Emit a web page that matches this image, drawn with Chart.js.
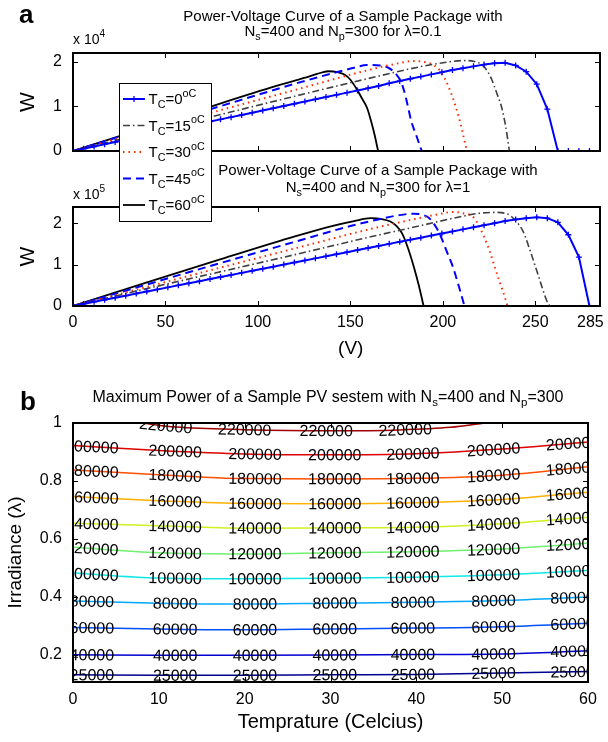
<!DOCTYPE html>
<html lang="en">
<head>
<meta charset="UTF-8">
<title>PV curves and maximum power map</title>
<script src="https://cdn.jsdelivr.net/npm/chart.js"></script>
<style>
  body { margin: 0; background: #fff; }
  #wrap { position: relative; width: 608px; height: 742px; }
  canvas { position: absolute; left: 0; }
  #pvTop { top: 0; z-index: 2; }
  #pvBottom { top: 160px; z-index: 1; }
  #contour { top: 360px; z-index: 1; }
</style>
</head>
<body>
<div id="wrap">
  <canvas id="pvTop" width="608" height="232"></canvas>
  <canvas id="pvBottom" width="608" height="200"></canvas>
  <canvas id="contour" width="608" height="382"></canvas>
</div>

<script>
// ---------- data: panel a (power vs voltage) ----------
const tempsC = [0, 15, 30, 45, 60];
const vTicks = [0, 50, 100, 150, 200, 250, 285];

// voltage samples of the Tc=0 curve (the one with markers)
const vGrid = [0,5.7,11.4,17.1,22.8,28.5,34.2,39.9,45.6,51.3,57,62.7,68.4,74.1,79.8,85.5,91.2,96.9,102.6,108.3,
  114,119.7,125.4,131.1,136.8,142.5,148.2,153.9,159.6,165.3,171,176.7,182.4,188.1,193.8,199.5,205.2,210.9,216.6,222.3,
  228,233.7,239.4,245.1,250.8,256.5,262.2,267.9,273.6,279.3,285];

// lambda = 0.1, power in units of 1e4 W
const top0P = [0,0.05,0.10,0.15,0.20,0.25,0.30,0.35,0.40,0.45,0.51,0.56,0.61,0.66,0.71,0.76,0.81,0.86,0.91,0.96,
  1.01,1.06,1.11,1.16,1.21,1.26,1.31,1.36,1.41,1.46,1.52,1.57,1.62,1.67,1.72,1.77,1.82,1.86,1.90,1.94,
  1.97,1.98,1.92,1.78,1.50,0.94,0,0,0,0,0];
const top15V = [0,40,80,120,160,190,205,211,217,221,224,226.5,229,232,234,236];
const top15P = [0,0.41,0.82,1.23,1.63,1.91,2.01,2.03,2.01,1.94,1.80,1.60,1.32,0.95,0.55,0];
const top30V = [0,40,80,120,160,175,184,190,195,198,201,203,206,208.6,211,213];
const top30P = [0,0.46,0.92,1.37,1.82,1.96,2.02,2.00,1.93,1.83,1.63,1.45,1.12,0.77,0.36,0];
const top45V = [0,40,80,120,140,152,159,166,170,174,177,179,181,183,185.4,188.6];
const top45P = [0,0.51,1.01,1.51,1.74,1.87,1.93,1.92,1.88,1.76,1.58,1.36,1.02,0.66,0.38,0];
const top60V = [0,40,80,110,125,132,138,143,147,150,153,156,159,161,163,165];
const top60P = [0,0.53,1.07,1.46,1.64,1.73,1.79,1.77,1.71,1.60,1.42,1.20,0.97,0.70,0.38,0];

// lambda = 1, power in units of 1e5 W
const bot0P = [0,0.05,0.10,0.15,0.20,0.25,0.30,0.35,0.40,0.45,0.50,0.55,0.60,0.65,0.70,0.75,0.80,0.85,0.90,0.95,
  1.00,1.05,1.10,1.15,1.20,1.25,1.30,1.35,1.40,1.45,1.50,1.55,1.60,1.65,1.70,1.75,1.80,1.85,1.90,1.95,
  2.00,2.05,2.09,2.12,2.14,2.12,2.02,1.72,1.18,0];
const bot15V = [0,40,80,120,160,190,210,220,228,235,239,243.4,247.7,251.9,256.1,257.8];
const bot15P = [0,0.42,0.83,1.24,1.66,1.96,2.16,2.24,2.26,2.22,2.08,1.80,1.27,0.70,0.14,0];
const bot30V = [0,40,80,120,160,185,198,205.4,211,217,222.3,225.5,228.6,232,235];
const bot30P = [0,0.46,0.93,1.39,1.85,2.10,2.22,2.27,2.24,2.12,1.67,1.30,0.87,0.42,0];
const bot45V = [0,40,80,120,150,165,176,184.3,189,192.7,196,199,202,205.4,208.5,211.7];
const bot45P = [0,0.52,1.04,1.55,1.93,2.09,2.19,2.23,2.20,2.12,1.93,1.67,1.33,0.95,0.50,0];
const bot60V = [0,40,80,120,140,152,161,167,171.6,175,177.9,181,184.3,187,189.6];
const bot60P = [0,0.57,1.13,1.68,1.93,2.05,2.12,2.10,2.04,1.93,1.76,1.42,0.95,0.50,0];

// ---------- data: panel b (contours of max power) ----------
const levels = [25000, 40000, 60000, 80000, 100000, 120000, 140000, 160000, 180000, 200000, 220000];
const tGrid = [0, 10, 20, 30, 40, 50, 60];
const lam25000  = [0.131, 0.129, 0.129, 0.131, 0.132, 0.137, 0.142];
const lam40000  = [0.200, 0.198, 0.198, 0.199, 0.201, 0.203, 0.214];
const lam60000  = [0.294, 0.289, 0.286, 0.289, 0.292, 0.297, 0.309];
const lam80000  = [0.386, 0.378, 0.375, 0.378, 0.381, 0.387, 0.399];
const lam100000 = [0.482, 0.465, 0.462, 0.464, 0.468, 0.476, 0.491];
const lam120000 = [0.571, 0.552, 0.548, 0.552, 0.556, 0.565, 0.585];
const lam140000 = [0.654, 0.645, 0.637, 0.638, 0.640, 0.652, 0.675];
const lam160000 = [0.746, 0.732, 0.722, 0.721, 0.725, 0.736, 0.761];
const lam180000 = [0.838, 0.821, 0.808, 0.807, 0.809, 0.820, 0.849];
const lam200000 = [0.922, 0.905, 0.893, 0.890, 0.894, 0.910, 0.934];
const t220000   = [8, 12, 20, 30, 38, 44, 48];
const lam220000 = [1.0, 0.986, 0.977, 0.973, 0.976, 0.985, 1.0];
const lamTicks = [0.2, 0.4, 0.6, 0.8, 1];
const labelT = [2.2, 11.9, 21.2, 30.5, 39.6, 49.0, 58.2];
const labelT220 = [10.8, 20.0, 29.5, 38.7];

// ---------- styles ----------
const FAM = '"Liberation Sans", Arial, Helvetica, sans-serif';
Chart.defaults.font.family = FAM;
Chart.defaults.color = '#000';

const pvStyles = [
  { color: '#0000ff', dash: [], width: 2, marker: true },
  { color: '#404040', dash: [7, 3, 1.5, 3], width: 1.6 },
  { color: '#ff2a00', dash: [1.5, 4], width: 2 },
  { color: '#0000ff', dash: [8, 5], width: 2 },
  { color: '#000000', dash: [], width: 1.8 }
];
const levelColors = ['#000090', '#0000d0', '#0050ff', '#00a8ff', '#10e8e8', '#70f070',
  '#d0f020', '#ffb000', '#ff5000', '#e00000', '#a00000'];

// text with sub/superscripts: parts = [[text, ''|'sub'|'sup'], ...]
function drawRich(ctx, parts, x, y, size, align) {
  const small = size * 0.72;
  let w = 0;
  parts.forEach(p => {
    ctx.font = (p[1] ? small : size) + 'px ' + FAM;
    w += ctx.measureText(p[0]).width;
  });
  let cx = align === 'left' ? x : x - w / 2;
  ctx.textAlign = 'left';
  ctx.textBaseline = 'alphabetic';
  ctx.fillStyle = '#000';
  parts.forEach(p => {
    ctx.font = (p[1] ? small : size) + 'px ' + FAM;
    const dy = p[1] === 'sub' ? size * 0.27 : p[1] === 'sup' ? -size * 0.5 : 0;
    ctx.fillText(p[0], cx, y + dy);
    cx += ctx.measureText(p[0]).width;
  });
}

function pvDatasets(series) {
  return series.map((s, k) => ({
    label: 'Tc=' + tempsC[k],
    data: s.v.map((v, i) => ({ x: v, y: s.p[i] })),
    borderColor: pvStyles[k].color,
    borderDash: pvStyles[k].dash,
    borderWidth: pvStyles[k].width,
    pointRadius: pvStyles[k].marker ? 3 : 0,
    pointStyle: 'cross',
    pointBorderWidth: 1.3,
    pointBorderColor: pvStyles[k].color,
    cubicInterpolationMode: pvStyles[k].marker ? 'default' : 'monotone'
  }));
}

const setTicks = list => scale => { scale.ticks = list.map(v => ({ value: v })); };

// box + inward ticks on all four sides
const framePlugin = {
  id: 'frame',
  afterDatasetsDraw(chart) {
    const { ctx, chartArea: a, scales } = chart;
    const L = 5;
    ctx.save();
    ctx.strokeStyle = '#000';
    ctx.lineWidth = 1;
    ctx.beginPath();
    scales.x.ticks.forEach(t => {
      const px = Math.round(scales.x.getPixelForValue(t.value)) + 0.5;
      ctx.moveTo(px, a.bottom); ctx.lineTo(px, a.bottom - L);
      ctx.moveTo(px, a.top); ctx.lineTo(px, a.top + L);
    });
    scales.y.ticks.forEach(t => {
      const py = Math.round(scales.y.getPixelForValue(t.value)) + 0.5;
      ctx.moveTo(a.left, py); ctx.lineTo(a.left + L, py);
      ctx.moveTo(a.right, py); ctx.lineTo(a.right - L, py);
    });
    ctx.stroke();
    ctx.lineWidth = 2;
    ctx.strokeRect(a.left, a.top, a.right - a.left, a.bottom - a.top);
    ctx.restore();
  }
};

function yAxisPV(max) {
  return {
    type: 'linear', min: 0, max: max,
    afterBuildTicks: setTicks([0, 1, 2]),
    ticks: { padding: 11, font: { size: 16 }, callback: v => String(v) },
    grid: { display: false, drawTicks: false },
    border: { display: false },
    title: { display: true, text: 'W', font: { size: 21 }, padding: { top: 16, bottom: 0 } },
    afterFit: s => { s.width = 73; s.paddingTop = 0; s.paddingBottom = 0; }
  };
}

// ---------- panel a, top (lambda = 0.1) ----------
function drawLegend(chart) {
  const ctx = chart.ctx;
  ctx.save();
  ctx.fillStyle = '#fff';
  ctx.fillRect(119.5, 83.5, 92, 138);
  ctx.strokeStyle = '#000';
  ctx.lineWidth = 1;
  ctx.strokeRect(119.5, 83.5, 92, 138);
  chart.data.datasets.forEach((ds, k) => {
    const y = 99 + k * 26.5;
    ctx.strokeStyle = ds.borderColor;
    ctx.lineWidth = ds.borderWidth;
    ctx.setLineDash(ds.borderDash);
    ctx.beginPath(); ctx.moveTo(123, y); ctx.lineTo(145, y); ctx.stroke();
    ctx.setLineDash([]);
    if (ds.pointRadius) {
      ctx.lineWidth = ds.pointBorderWidth;
      ctx.beginPath();
      ctx.moveTo(134, y - 3); ctx.lineTo(134, y + 3);
      ctx.moveTo(131, y); ctx.lineTo(137, y);
      ctx.stroke();
    }
    drawRich(ctx, [['T', ''], ['C', 'sub'], ['=' + tempsC[k], ''], ['oC', 'sup']], 148.5, y + 5, 15, 'left');
  });
  ctx.restore();
}

new Chart(document.getElementById('pvTop'), {
  type: 'line',
  data: {
    datasets: pvDatasets([
      { v: vGrid, p: top0P }, { v: top15V, p: top15P }, { v: top30V, p: top30P },
      { v: top45V, p: top45P }, { v: top60V, p: top60P }
    ])
  },
  options: {
    responsive: false,
    animation: false,
    layout: { padding: { top: 53, right: 8, bottom: 81, left: 0 } },
    plugins: { legend: { display: false }, tooltip: { enabled: false } },
    scales: {
      x: {
        type: 'linear', min: 0, max: 285,
        afterBuildTicks: setTicks(vTicks),
        ticks: { display: false },
        grid: { display: false, drawTicks: false },
        border: { display: false },
        afterFit: s => { s.height = 0; s.paddingLeft = 0; s.paddingRight = 0; }
      },
      y: yAxisPV(2.2)
    }
  },
  plugins: [framePlugin, {
    id: 'texts',
    afterDraw(chart) {
      const ctx = chart.ctx;
      ctx.save();
      ctx.fillStyle = '#000';
      ctx.font = 'bold 26px ' + FAM;
      ctx.textAlign = 'left';
      ctx.fillText('a', 19, 23);
      drawRich(ctx, [['Power-Voltage Curve of a Sample Package with', '']], 343, 21, 15);
      drawRich(ctx, [['N', ''], ['s', 'sub'], ['=400 and N', ''], ['p', 'sub'], ['=300 for \u03bb=0.1', '']], 343, 36, 15);
      drawRich(ctx, [['x 10', ''], ['4', 'sup']], 73, 44, 14, 'left');
      drawLegend(chart);
      ctx.restore();
    }
  }]
});

// ---------- panel a, bottom (lambda = 1) ----------
new Chart(document.getElementById('pvBottom'), {
  type: 'line',
  data: {
    datasets: pvDatasets([
      { v: vGrid.slice(0, bot0P.length), p: bot0P }, { v: bot15V, p: bot15P }, { v: bot30V, p: bot30P },
      { v: bot45V, p: bot45P }, { v: bot60V, p: bot60P }
    ])
  },
  options: {
    responsive: false,
    animation: false,
    layout: { padding: { top: 47, right: 8, bottom: 0, left: 0 } },
    plugins: { legend: { display: false }, tooltip: { enabled: false } },
    scales: {
      x: {
        type: 'linear', min: 0, max: 285,
        afterBuildTicks: setTicks(vTicks),
        // last label sits a little inside the figure edge, as in the original
        ticks: { padding: 7, font: { size: 16 }, maxRotation: 0,
          callback: v => v === 285 ? '285\u2003\u2009' : String(v) },
        grid: { display: false, drawTicks: false },
        border: { display: false },
        title: { display: true, text: '\u2003\u2002(V)', font: { size: 19 }, padding: { top: 0, bottom: 0 } },
        afterFit: s => { s.height = 54; s.paddingLeft = 0; s.paddingRight = 0; }
      },
      y: yAxisPV(2.39)
    }
  },
  plugins: [framePlugin, {
    id: 'texts',
    afterDraw(chart) {
      const ctx = chart.ctx;
      ctx.save();
      drawRich(ctx, [['Power-Voltage Curve of a Sample Package with', '']], 378, 15, 15);
      drawRich(ctx, [['N', ''], ['s', 'sub'], ['=400 and N', ''], ['p', 'sub'], ['=300 for \u03bb=1', '']], 378, 32, 15);
      drawRich(ctx, [['x 10', ''], ['5', 'sup']], 73, 39, 14, 'left');
      ctx.restore();
    }
  }]
});

// ---------- panel b: contour map ----------
const contourSets = [
  { t: tGrid, l: lam25000 }, { t: tGrid, l: lam40000 }, { t: tGrid, l: lam60000 },
  { t: tGrid, l: lam80000 }, { t: tGrid, l: lam100000 }, { t: tGrid, l: lam120000 },
  { t: tGrid, l: lam140000 }, { t: tGrid, l: lam160000 }, { t: tGrid, l: lam180000 },
  { t: tGrid, l: lam200000 }, { t: t220000, l: lam220000 }
];

function lamAt(data, t) {
  if (t <= data[0].x) return data[0].y;
  for (let i = 0; i < data.length - 1; i++) {
    const a = data[i], b = data[i + 1];
    if (t >= a.x && t <= b.x) return a.y + (b.y - a.y) * (t - a.x) / (b.x - a.x);
  }
  return data[data.length - 1].y;
}

const contourLabels = {
  id: 'clabels',
  afterDatasetsDraw(chart) {
    const { ctx, chartArea: a, scales: { x, y } } = chart;
    ctx.save();
    ctx.beginPath();
    ctx.rect(a.left + 1, a.top + 1, a.right - a.left - 2, a.bottom - a.top - 2);
    ctx.clip();
    ctx.font = '16px ' + FAM;
    ctx.fillStyle = '#000';
    ctx.textAlign = 'center';
    ctx.textBaseline = 'middle';
    chart.data.datasets.forEach((ds, k) => {
      const ts = levels[k] === 220000 ? labelT220 : labelT;
      ts.forEach(t => {
        const px = x.getPixelForValue(t);
        const py = y.getPixelForValue(lamAt(ds.data, t));
        const ang = Math.atan2(
          y.getPixelForValue(lamAt(ds.data, t + 3)) - y.getPixelForValue(lamAt(ds.data, t - 3)),
          x.getPixelForValue(t + 3) - x.getPixelForValue(t - 3));
        ctx.save();
        ctx.translate(px, py);
        ctx.rotate(ang);
        ctx.fillText(String(levels[k]), 0, 1);
        ctx.restore();
      });
    });
    ctx.restore();
  }
};

new Chart(document.getElementById('contour'), {
  type: 'line',
  data: {
    datasets: contourSets.map((c, k) => ({
      label: String(levels[k]),
      data: c.t.map((t, i) => ({ x: t, y: c.l[i] })),
      borderColor: levelColors[k],
      borderWidth: 1.5,
      pointRadius: 0,
      cubicInterpolationMode: 'monotone'
    }))
  },
  options: {
    responsive: false,
    animation: false,
    layout: { padding: { top: 63, right: 20, bottom: 0, left: 0 } },
    plugins: { legend: { display: false }, tooltip: { enabled: false } },
    scales: {
      x: {
        type: 'linear', min: 0, max: 60,
        ticks: { stepSize: 10, padding: 8, font: { size: 16 }, maxRotation: 0 },
        grid: { display: false, drawTicks: false },
        border: { display: false },
        title: { display: true, text: 'Temprature (Celcius)', font: { size: 20 }, padding: { top: 0, bottom: 8 } },
        afterFit: s => { s.height = 60; s.paddingLeft = 0; s.paddingRight = 0; }
      },
      y: {
        type: 'linear', min: 0.106, max: 1,
        afterBuildTicks: setTicks(lamTicks),
        ticks: { padding: 11, font: { size: 16 }, callback: v => String(v) },
        grid: { display: false, drawTicks: false },
        border: { display: false },
        title: { display: true, text: 'Irradiance (\u03bb)', font: { size: 19 }, padding: { top: 4, bottom: 0 } },
        afterFit: s => { s.width = 73; s.paddingTop = 0; s.paddingBottom = 0; }
      }
    }
  },
  plugins: [contourLabels, framePlugin, {
    id: 'texts',
    afterDraw(chart) {
      const ctx = chart.ctx;
      ctx.save();
      ctx.fillStyle = '#000';
      ctx.font = 'bold 26px ' + FAM;
      ctx.textAlign = 'left';
      ctx.fillText('b', 20, 50);
      drawRich(ctx, [['Maximum Power of a Sample PV sestem with N', ''], ['s', 'sub'], ['=400 and N', ''], ['p', 'sub'], ['=300', '']], 328, 42, 16);
      ctx.restore();
    }
  }]
});
</script>
</body>
</html>
